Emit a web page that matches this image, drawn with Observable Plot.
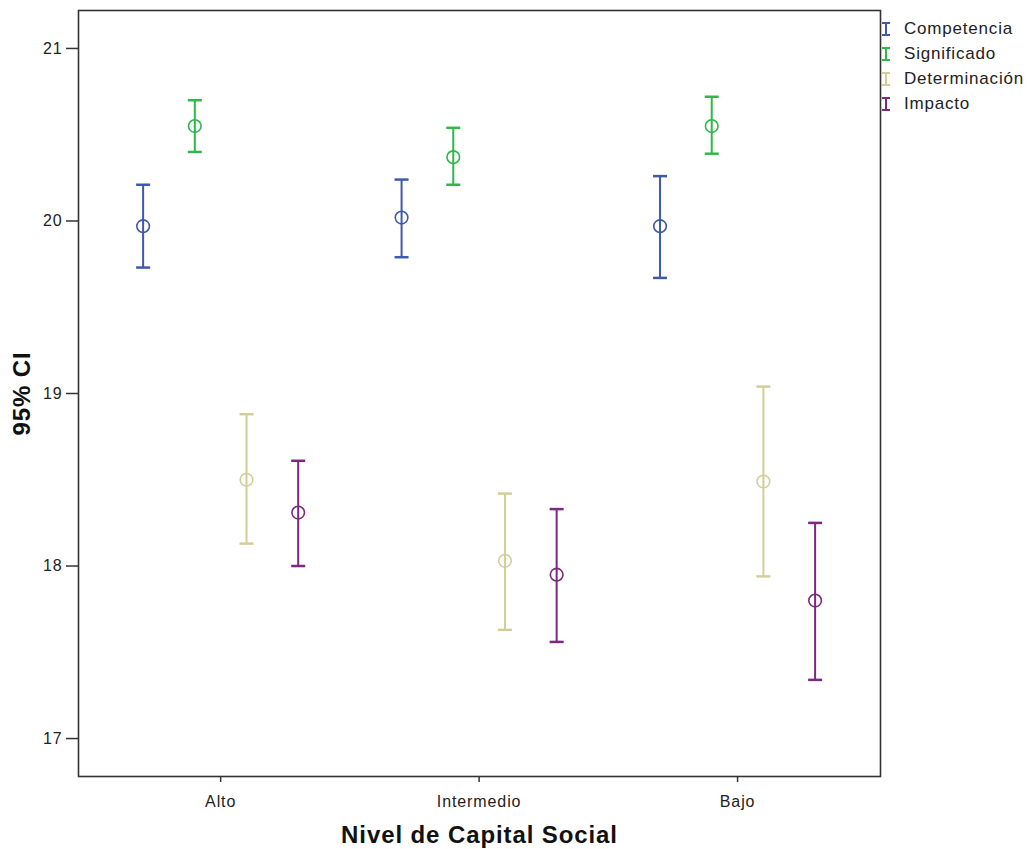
<!DOCTYPE html>
<html>
<head>
<meta charset="utf-8">
<script src="https://cdn.jsdelivr.net/npm/d3@7"></script>
<script src="https://cdn.jsdelivr.net/npm/@observablehq/plot@0.6"></script>
<style>
  html, body { margin: 0; padding: 0; background: #fff; }
  #wrap { position: relative; width: 1028px; height: 849px; font-family: "Liberation Sans", Arial, sans-serif; }
  #chart svg text { letter-spacing: 0.9px; }
  #legend { position: absolute; left: 880px; top: 16px; font-size: 17px; letter-spacing: 0.8px; color: #222; }
  .row { display: flex; align-items: center; height: 25px; }
  .row svg { margin-left: 2px; margin-right: 14px; }
</style>
</head>
<body>
<div id="wrap"><div id="chart"></div><div id="legend"></div></div>
<script>
// ---- data ----
const groups = ["Alto", "Intermedio", "Bajo"];
const series = ["Competencia", "Significado", "Determinación", "Impacto"];
const meanCompetencia   = [19.97, 20.02, 19.97];
const lowCompetencia    = [19.73, 19.79, 19.67];
const highCompetencia   = [20.21, 20.24, 20.26];
const meanSignificado   = [20.55, 20.37, 20.55];
const lowSignificado    = [20.40, 20.21, 20.39];
const highSignificado   = [20.70, 20.54, 20.72];
const meanDeterminacion = [18.50, 18.03, 18.49];
const lowDeterminacion  = [18.13, 17.63, 17.94];
const highDeterminacion = [18.88, 18.42, 19.04];
const meanImpacto       = [18.31, 17.95, 17.80];
const lowImpacto        = [18.00, 17.56, 17.34];
const highImpacto       = [18.61, 18.33, 18.25];
const yTicks = [17, 18, 19, 20, 21];

const colors = ["#3E58AC", "#2EB848", "#D3CE97", "#7C287D"];
const means = [meanCompetencia, meanSignificado, meanDeterminacion, meanImpacto];
const lows = [lowCompetencia, lowSignificado, lowDeterminacion, lowImpacto];
const highs = [highCompetencia, highSignificado, highDeterminacion, highImpacto];

const data = [];
groups.forEach((g, gi) => series.forEach((s, si) => {
  data.push({group: g, series: s, pos: gi + (si - 1.5) * 0.2,
             mean: means[si][gi], lo: lows[si][gi], hi: highs[si][gi]});
}));

const capSymbol = {
  draw(ctx, size) {
    const r = Math.sqrt(size / Math.PI);
    ctx.moveTo(-r, 0); ctx.lineTo(r, 0);
  }
};

const font = "'Liberation Sans', Arial, sans-serif";

const chart = Plot.plot({
  width: 1028,
  height: 849,
  marginLeft: 78,
  marginRight: 148,
  marginTop: 10,
  marginBottom: 73,
  style: {fontFamily: font, color: "#222", background: "#fff"},
  x: {type: "linear", domain: [-0.55, 2.553]},
  y: {domain: [16.78, 21.22]},
  color: {domain: series, range: colors},
  marks: [
    Plot.axisY(yTicks, {tickSize: 12, tickPadding: 4, fontSize: 16, label: null, stroke: "#333",
      strokeWidth: 1.5, fill: "#222", tickFormat: "d"}),
    Plot.axisX([0, 1, 2], {tickSize: 6, tickPadding: 13, fontSize: 16, label: null,
      tickFormat: i => groups[i], stroke: "#333", strokeWidth: 1.5, fill: "#222"}),
    Plot.ruleX(data, {x: "pos", y1: "lo", y2: "hi", stroke: "series", strokeWidth: 2}),
    Plot.dot(data, {x: "pos", y: "lo", r: 7, symbol: capSymbol, stroke: "series", strokeWidth: 2.5, fill: "none"}),
    Plot.dot(data, {x: "pos", y: "hi", r: 7, symbol: capSymbol, stroke: "series", strokeWidth: 2.5, fill: "none"}),
    Plot.dot(data, {x: "pos", y: "mean", r: 6.3, stroke: "series", strokeWidth: 1.6, fill: "none"}),
    Plot.frame({stroke: "#333", strokeWidth: 1.6}),
    Plot.text(["Nivel de Capital Social"], {frameAnchor: "bottom", dy: 59, lineAnchor: "middle",
      textAnchor: "middle", fontSize: 24, fontWeight: "bold", fill: "#111"}),
    Plot.text(["95% CI"], {frameAnchor: "left", dx: -56, rotate: -90, lineAnchor: "middle",
      textAnchor: "middle", fontSize: 24, fontWeight: "bold", fill: "#111"})
  ]
});
document.getElementById("chart").appendChild(chart);

const legend = document.getElementById("legend");
series.forEach((s, i) => {
  const row = document.createElement("div");
  row.className = "row";
  row.innerHTML = `<svg width="8" height="14"><g stroke="${colors[i]}" stroke-width="2">` +
    `<line x1="4" y1="1" x2="4" y2="13"/><line x1="0" y1="1" x2="8" y2="1"/><line x1="0" y1="13" x2="8" y2="13"/></g></svg>` +
    `<span>${s}</span>`;
  legend.appendChild(row);
});
</script>
</body>
</html>
